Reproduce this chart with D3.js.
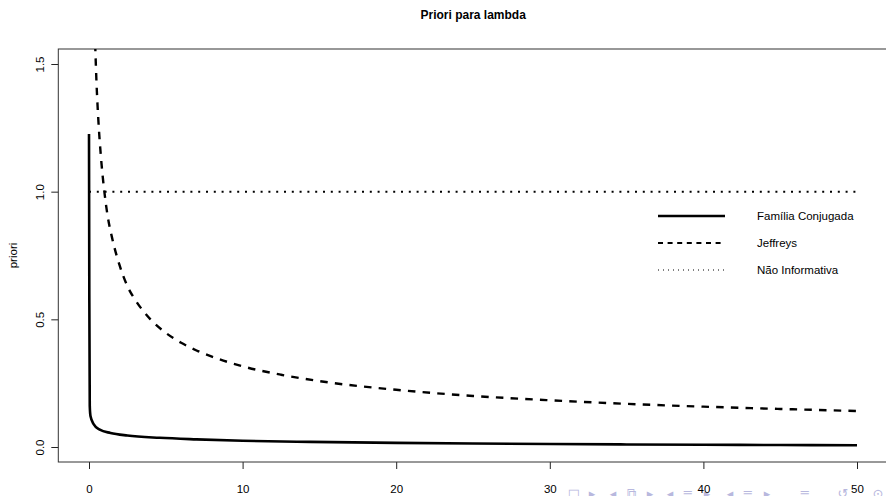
<!DOCTYPE html>
<html>
<head>
<meta charset="utf-8">
<script src="https://cdn.jsdelivr.net/npm/d3@7"></script>
<style>
  html, body { margin: 0; padding: 0; background: #fff; }
  svg { display: block; font-family: "Liberation Sans", Arial, sans-serif; }
</style>
</head>
<body>
<svg id="chart" width="886" height="496"></svg>
<script>
// values
const xTicks = [0, 10, 20, 30, 40, 50];
const yTicks = [0, 0.5, 1.0, 1.5];
const yTickLabels = ['0.0', '0.5', '1.0', '1.5'];

// Jeffreys prior (dashed)
const jeffX = [0.4, 0.5, 0.6, 0.8, 1, 1.2, 1.5, 2, 2.5, 3, 3.5, 4, 5, 6, 7, 8, 10, 12.5, 15, 20, 25, 30, 35, 40, 45, 50];
const jeffY = [1.58, 1.41, 1.29, 1.12, 1.0, 0.91, 0.82, 0.71, 0.63, 0.577, 0.535, 0.5, 0.447, 0.408, 0.378, 0.354, 0.316, 0.283, 0.258, 0.224, 0.2, 0.183, 0.169, 0.158, 0.149, 0.141];

// conjugate family (solid)
const conjX = [0, 0.02, 0.05, 0.1, 0.3, 0.7, 1.4, 2.5, 4.6, 7, 10, 14.4, 20, 25, 30, 35, 40, 45, 50];
const conjY = [1.226, 0.6, 0.16, 0.12, 0.09, 0.068, 0.055, 0.045, 0.036, 0.03, 0.0245, 0.02, 0.016, 0.0135, 0.0115, 0.01, 0.0087, 0.0077, 0.0068];

// non informative (dotted)
const flatX = [0, 50];
const flatY = [1, 1];

const legendLabels = ['Família Conjugada', 'Jeffreys', 'Não Informativa'];
const legendDash = ['none', '5,4.6', '1,4'];
const legendWidth = [2.4, 1.8, 1];

const svg = d3.select('#chart');
const box = { left: 58.3, top: 49, right: 888, bottom: 462 };

const x = d3.scaleLinear().domain([0, 50]).range([89, 857]);
const y = d3.scaleLinear().domain([0, 1.5]).range([447, 64]);

svg.append('defs').append('clipPath').attr('id', 'plotclip')
  .append('rect')
  .attr('x', box.left).attr('y', box.top)
  .attr('width', box.right - box.left).attr('height', box.bottom - box.top);

// title
svg.append('text')
  .attr('x', (box.left + box.right) / 2).attr('y', 18.5)
  .attr('text-anchor', 'middle')
  .style('font-size', '12px').style('font-weight', 'bold')
  .text('Priori para lambda');

// y label
svg.append('text')
  .attr('transform', `translate(16.5,${(box.top + box.bottom) / 2}) rotate(-90)`)
  .attr('text-anchor', 'middle')
  .style('font-size', '11.5px')
  .text('priori');

// beamer navigation symbols (faint, bottom right)
const navGlyphs = ['□', '▸', '◂', '⧉', '▸', '◂', '≡', '▸', '◂', '≡', '▸', '≡', '↺', '⊙'];
const navPos = [574, 592, 613, 631, 650, 670, 688, 707, 730, 748, 767, 805, 843, 878];
svg.append('g').selectAll('text').data(navGlyphs).join('text')
  .attr('x', (d, i) => navPos[i]).attr('y', 497.5)
  .attr('text-anchor', 'middle')
  .style('font-family', 'DejaVu Sans')
  .style('font-size', '13px')
  .attr('fill', '#b8b8de')
  .text(d => d);

// x axis
const gx = svg.append('g')
  .attr('transform', `translate(0,${box.bottom})`)
  .call(d3.axisBottom(x).tickValues(xTicks).tickSize(7).tickSizeOuter(0));
gx.select('.domain').remove();
gx.selectAll('.tick line').attr('stroke', '#222');
gx.selectAll('.tick text')
  .attr('y', 30.5).attr('dy', 0)
  .style('font-size', '11.5px')
  .style('font-family', '"Liberation Sans", Arial, sans-serif')
  .attr('fill', '#000');

// y axis
const gy = svg.append('g')
  .attr('transform', `translate(${box.left},0)`)
  .call(d3.axisLeft(y).tickValues(yTicks).tickFormat((d, i) => yTickLabels[i]).tickSize(7).tickSizeOuter(0));
gy.select('.domain').remove();
gy.selectAll('.tick line').attr('stroke', '#222');
gy.selectAll('.tick text')
  .attr('transform', 'rotate(-90)')
  .attr('x', 0).attr('y', -14.8).attr('dy', 0)
  .attr('text-anchor', 'middle')
  .style('font-size', '11.5px')
  .style('font-family', '"Liberation Sans", Arial, sans-serif')
  .attr('fill', '#000');

// plot box
svg.append('rect')
  .attr('x', box.left).attr('y', box.top)
  .attr('width', box.right - box.left).attr('height', box.bottom - box.top)
  .attr('fill', 'none').attr('stroke', '#333').attr('stroke-width', 1);

const line = d3.line()
  .x(d => x(d[0]))
  .y(d => y(d[1]))
  .curve(d3.curveMonotoneX);

const plot = svg.append('g').attr('clip-path', 'url(#plotclip)');

plot.append('path')
  .datum(d3.zip(flatX, flatY))
  .attr('d', line)
  .attr('fill', 'none').attr('stroke', '#000')
  .attr('stroke-width', 2).attr('stroke-dasharray', '2,5.8');

plot.append('path')
  .datum(d3.zip(jeffX, jeffY))
  .attr('d', line)
  .attr('fill', 'none').attr('stroke', '#000')
  .attr('stroke-width', 2.4).attr('stroke-dasharray', '7.5,7.2');

plot.append('path')
  .datum(d3.zip(conjX, conjY))
  .attr('d', line)
  .attr('fill', 'none').attr('stroke', '#000')
  .attr('stroke-width', 2.6);

// legend (no box)
const legendRows = [216, 243, 270];
const lg = svg.append('g');
legendLabels.forEach((lab, i) => {
  lg.append('line')
    .attr('x1', 658).attr('x2', 725)
    .attr('y1', legendRows[i]).attr('y2', legendRows[i])
    .attr('stroke', '#000')
    .attr('stroke-width', legendWidth[i])
    .attr('stroke-dasharray', legendDash[i]);
  lg.append('text')
    .attr('x', 757).attr('y', legendRows[i])
    .attr('dy', '0.36em')
    .style('font-size', '11.5px')
    .text(lab);
});
</script>
</body>
</html>
